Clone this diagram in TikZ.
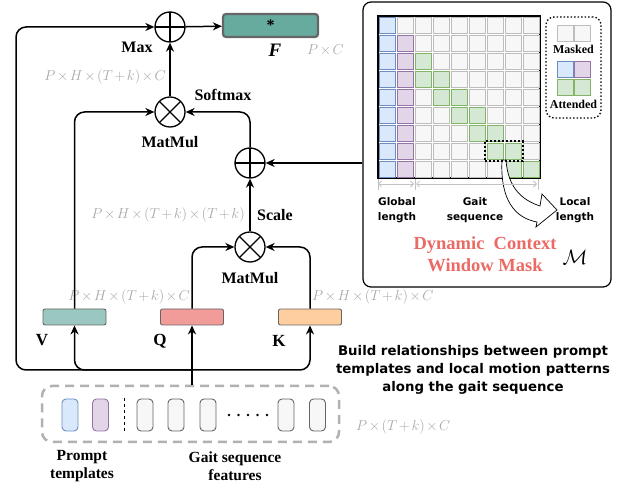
\documentclass[tikz,border=0pt]{standalone}
\usepackage[no-math]{fontspec}
\setmainfont{Liberation Serif}
\newfontfamily\comicfont{DejaVu Sans}
\usetikzlibrary{arrows.meta, positioning, fit}
\definecolor{gaitteal}{HTML}{67AB9F}
\definecolor{vteal}{HTML}{9AC7BF}
\definecolor{qpink}{HTML}{F19C99}
\definecolor{korange}{HTML}{FFCE9F}
\definecolor{gblue}{HTML}{DAE8FC}
\definecolor{gbluedraw}{HTML}{6C8EBF}
\definecolor{gpurple}{HTML}{E1D5E7}
\definecolor{gpurpledraw}{HTML}{9673A6}
\definecolor{ggreen}{HTML}{D5E8D4}
\definecolor{ggreendraw}{HTML}{82B366}
\definecolor{gcell}{HTML}{F7F7F7}
\definecolor{gcelldraw}{HTML}{BDBDBD}
\definecolor{dimgray}{HTML}{A8A8A8}
\definecolor{maskred}{HTML}{EA6B66}
\definecolor{boxedge}{HTML}{666666}
\newcommand{\tms}{\mskip2mu{\times}\mskip2mu}
\newcommand{\tpl}{\mskip2mu{+}\mskip2mu}

\begin{document}
\begin{tikzpicture}[
    x=1pt, y=-1pt,
    font=\bfseries\fontsize{16}{18}\selectfont,
    op/.style={circle, draw, line width=1.3pt, minimum size=30pt, inner sep=0pt},
    addop/.style={op, path picture={\draw[line width=1.3pt]
        (path picture bounding box.north) -- (path picture bounding box.south)
        (path picture bounding box.west) -- (path picture bounding box.east);}},
    mulop/.style={op, path picture={\draw[line width=1.3pt]
        (path picture bounding box.north west) -- (path picture bounding box.south east)
        (path picture bounding box.north east) -- (path picture bounding box.south west);}},
    proj/.style={draw=boxedge, line width=0.9pt, rounded corners=2pt,
                 minimum width=63pt, minimum height=16pt, inner sep=0pt},
    pill/.style={draw=boxedge, fill=gcell, line width=0.9pt, rounded corners=4pt,
                 minimum width=16pt, minimum height=32pt, inner sep=0pt},
    cell/.style={line width=0.7pt, minimum size=16pt, inner sep=0pt},
    dimtext/.style={font=\mdseries\fontsize{13.5}{16}\selectfont, text=dimgray, inner sep=1pt},
    lbl/.style={inner sep=1pt},
    note/.style={font=\comicfont\bfseries\fontsize{10.5}{15}\selectfont, align=center, inner sep=0pt},
    bignote/.style={font=\comicfont\bfseries\fontsize{13.3}{18}\selectfont, align=center, inner sep=0pt},
    arr/.style={-{Stealth[length=9pt, width=8pt]}, line width=1.5pt, rounded corners=10pt},
    dim/.style={{Straight Barb[length=3pt]}-{Straight Barb[length=3pt]}, dimgray!70, line width=0.8pt},
  ]
    \useasboundingbox (0,0) rectangle (622,486);

    % mask panel
    \node[draw, line width=1.2pt, rounded corners=8pt, minimum width=248pt,
          minimum height=285pt] (mask) at (487,144.5) {};
    \node[draw, line width=1.8pt, minimum size=162pt, inner sep=0pt] (grid) at (459,97) {};
    \foreach \r in {0,...,8}{
      \foreach \c in {0,...,8}{
        \pgfmathtruncatemacro{\dd}{\r-\c}
        \def\cf{gcell}\def\cd{gcelldraw}
        \ifnum\c=0 \def\cf{gblue}\def\cd{gbluedraw}\fi
        \ifnum\c=1 \ifnum\r>0 \def\cf{gpurple}\def\cd{gpurpledraw}\fi\fi
        \ifnum\c>1 \ifnum\dd>-1 \ifnum\dd<2 \def\cf{ggreen}\def\cd{ggreendraw}\fi\fi\fi
        \node[cell, fill=\cf, draw=\cd] (c\r\c) at (387+18*\c, 25+18*\r) {};
      }
    }
    \draw[line width=0.7pt, fill=white]
      (502,160) .. controls (500,200) and (515,218) .. (537,222)
      -- (536,227) -- (557,210) -- (542,194) -- (540,206)
      .. controls (522,200) and (508,188) .. (506,160) -- cycle;
    \node[draw, line width=2pt, dash pattern=on 2pt off 2pt, fit=(c76)(c77), inner sep=1.5pt] (win) {};

    % legend
    \node[draw, line width=1.3pt, dash pattern=on 1.5pt off 2pt, rounded corners=8pt,
          minimum width=55pt, minimum height=101pt] (legend) at (573.5,67.5) {};
    \node[cell, fill=gcell, draw=gcelldraw] (lm1) at (565,33) {};
    \node[cell, fill=gcell, draw=gcelldraw, right=1pt of lm1] (lm2) {};
    \node[lbl, font=\bfseries\fontsize{12}{14}\selectfont] (lmask) at (573.5,49) {Masked};
    \node[cell, fill=gblue, draw=gbluedraw] (la1) at (565,69) {};
    \node[cell, fill=gpurple, draw=gpurpledraw, right=1pt of la1] (la2) {};
    \node[cell, fill=ggreen, draw=ggreendraw] (la3) at (565,87) {};
    \node[cell, fill=ggreen, draw=ggreendraw, right=1pt of la3] (la4) {};
    \node[lbl, font=\bfseries\fontsize{12}{14}\selectfont] (latt) at (573.5,104) {Attended};

    % lengths
    \draw[dim] (378,184) -- (414,184);
    \draw[dim] (416,184) -- (537,184);
    \foreach \t in {378,415,538} \draw[dimgray!70, line width=0.8pt] (\t,179) -- (\t,190);
    \node[note] (glen) at (397,210) {Global\\length};
    \node[note] (gseq) at (475,210) {Gait\\sequence};
    \node[note] (llen) at (575,210) {Local\\length};
    \node[font=\bfseries\fontsize{18.5}{22}\selectfont, text=maskred, align=center]
      (title) at (485,254) {Dynamic\ \ Context\\Window Mask};
    \node[font=\mdseries\fontsize{20}{22}\selectfont] (mcal) at (575,257) {$\mathcal{M}$};

    % attention
    \node[addop] (add1) at (170,27) {};
    \node[proj, fill=gaitteal, line width=2.2pt, minimum width=95pt, minimum height=23pt,
          rounded corners=3pt] (fout) at (270.5,25.5) {\raisebox{-4pt}{*}};
    \node[lbl, font=\bfseries\itshape\fontsize{19}{20}\selectfont] (flbl) at (275,50) {F};
    \node[dimtext, anchor=west] (fdim) at (306,50) {$P\tms C$};
    \node[lbl] (max) at (137,47) {Max};

    \node[mulop] (mm1) at (170,112) {};
    \node[lbl, below=8pt of mm1] (mm1lbl) {MatMul};
    \node[lbl] (smax) at (223,95) {Softmax};
    \node[dimtext, anchor=east] (d1) at (167,77) {$P\tms H\tms(T\tpl k)\tms C$};

    \node[addop] (add2) at (250,163) {};
    \node[lbl, anchor=west] (scale) at (256,215) {Scale};
    \node[dimtext, anchor=east] (d2) at (246,215) {$P\tms H\tms(T\tpl k)\tms(T\tpl k)$};

    \node[mulop] (mm2) at (250,247) {};
    \node[lbl, below=9pt of mm2] (mm2lbl) {MatMul};

    \node[proj, fill=vteal] (v) at (74.5,317) {};
    \node[proj, fill=qpink] (q) at (192,317) {};
    \node[proj, fill=korange] (k) at (310,317) {};
    \node[lbl, font=\bfseries\fontsize{17}{18}\selectfont] (vlbl) at (42,340) {V};
    \node[lbl, font=\bfseries\fontsize{17}{18}\selectfont] (qlbl) at (160,341) {Q};
    \node[lbl, font=\bfseries\fontsize{17}{18}\selectfont] (klbl) at (279,341) {K};
    \node[dimtext, anchor=east] (d3) at (191,297) {$P\tms H\tms(T\tpl k)\tms C$};
    \node[dimtext, anchor=west] (d4) at (311,297) {$P\tms H\tms(T\tpl k)\tms C$};

    % input features
    \node[draw=dimgray!90, line width=2.5pt, dash pattern=on 9pt off 6pt, rounded corners=10pt,
          minimum width=297pt, minimum height=56pt] (feat) at (190.5,414) {};
    \node[pill, fill=gblue, draw=gbluedraw] (pt1) at (70,415) {};
    \node[pill, fill=gpurple, draw=gpurpledraw] (pt2) at (100.5,415) {};
    \foreach \i/\x in {1/145,2/176,3/208,4/286,5/317.5}
      \node[pill] (gf\i) at (\x,415) {};
    \draw[dashed, line width=0.9pt] (124,398) -- (124,432);
    \foreach \x in {229,238.5,...,267} \fill (\x,415) circle (1.4pt);
    \node[dimtext, anchor=west] (d5) at (355,427) {$P\tms(T\tpl k)\tms C$};
    \node[lbl, align=center, font=\bfseries\fontsize{15.5}{18}\selectfont] (ptlbl) at (82,466) {Prompt\\templates};
    \node[lbl, align=center, font=\bfseries\fontsize{15.5}{18}\selectfont] (gflbl) at (235,466) {Gait sequence\\features};
    \node[bignote] (build) at (473,370)
      {Build relationships between prompt\\templates and local motion patterns\\along the gait sequence};

    % connections
    \coordinate (bus) at (192,370);
    \coordinate (res) at (16,200);
    \draw[arr] (feat.north -| q) -- (q.south);
    \draw[arr] (bus) -| (k.south);
    \draw[arr] (bus) -| (v.south);
    \draw[arr] (bus) -| (res) |- (add1.west);
    \draw[arr] (q.north) |- (mm2.west);
    \draw[arr] (k.north) |- (mm2.east);
    \draw[arr] (mm2) -- (add2);
    \draw[arr] (mask.west |- add2) -- (add2);
    \draw[arr] (add2.north) |- (mm1.east);
    \draw[arr] (v.north) |- (mm1.west);
    \draw[arr] (mm1) -- (add1);
    \draw[arr] (add1) -- (fout);
  \end{tikzpicture}
\end{document}
